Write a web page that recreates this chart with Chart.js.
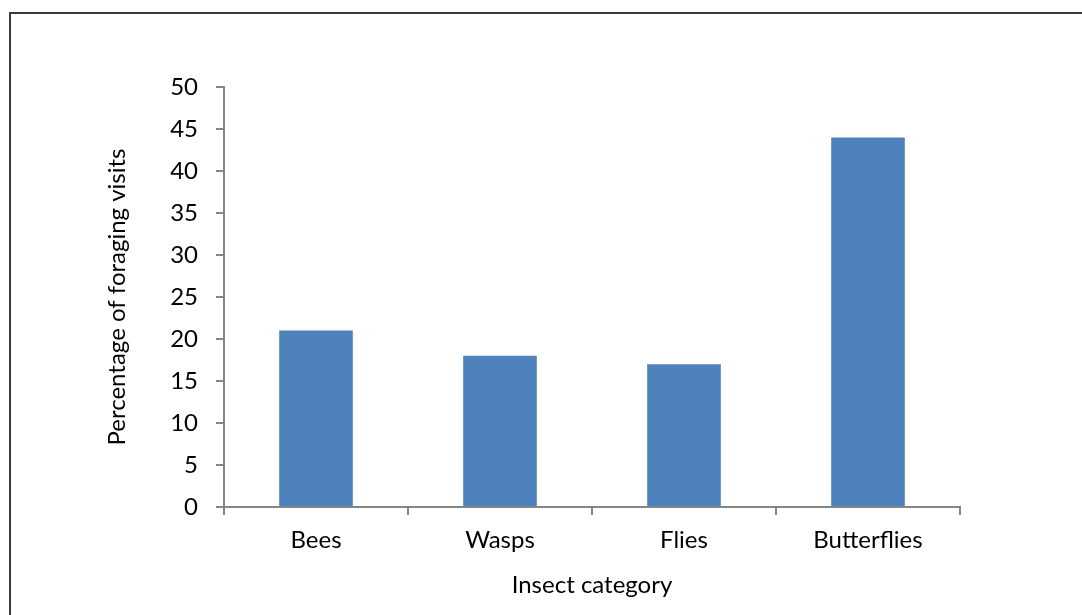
<!DOCTYPE html>
<html>
<head>
<meta charset="utf-8">
<script src="https://cdn.jsdelivr.net/npm/chart.js@4"></script>
<style>
  html, body { margin: 0; padding: 0; background: #fff; overflow: hidden; }
  #frame {
    position: absolute; left: 9px; top: 12px;
    width: 1200px; height: 700px;
    border-left: 2px solid #3a3a3a; border-top: 2px solid #3a3a3a;
  }
  #wrap { position: absolute; left: 0; top: 0; width: 1082px; height: 615px; }
</style>
</head>
<body>
<div id="frame"></div>
<div id="wrap"><canvas id="insectChart" width="1082" height="615"></canvas></div>
<script>
const categories = ['Bees', 'Wasps', 'Flies', 'Butterflies'];
const visits = [21, 18, 17, 44];
const yMin = 0;
const yMax = 50;
const yStep = 5;

const axisGrey = '#868686';
const fontFamily = 'Lato, "Open Sans", sans-serif';
const fontSize = 24;

const ctx = document.getElementById('insectChart').getContext('2d');

new Chart(ctx, {
    type: 'bar',
    data: {
        labels: categories,
        datasets: [{
            data: visits,
            backgroundColor: '#4F81BD',
            borderWidth: 0,
            barPercentage: 0.4,
            categoryPercentage: 1
        }]
    },
    options: {
        responsive: false,
        animation: false,
        layout: {
            padding: { left: 0, top: 87, right: 122, bottom: 0 }
        },
        plugins: {
            legend: { display: false },
            tooltip: { enabled: false }
        },
        scales: {
            x: {
                afterFit: (scale) => { scale.height = 108; },
                grid: {
                    drawOnChartArea: false,
                    tickLength: 8,
                    color: axisGrey,
                    lineWidth: 2
                },
                border: { color: axisGrey, width: 2 },
                ticks: {
                    color: '#000',
                    padding: 11,
                    font: { family: fontFamily, size: fontSize }
                },
                title: {
                    display: true,
                    text: 'Insect category',
                    color: '#000',
                    padding: { top: 0, bottom: 15 },
                    font: { family: fontFamily, size: fontSize }
                }
            },
            y: {
                min: yMin,
                max: yMax,
                afterFit: (scale) => { scale.width = 224; },
                grid: {
                    drawOnChartArea: false,
                    tickLength: 8,
                    color: axisGrey,
                    lineWidth: 2
                },
                border: { color: axisGrey, width: 2 },
                ticks: {
                    stepSize: yStep,
                    color: '#000',
                    padding: 18,
                    font: { family: fontFamily, size: fontSize }
                },
                title: {
                    display: true,
                    text: 'Percentage of foraging visits',
                    color: '#000',
                    padding: { top: 103, bottom: 0 },
                    font: { family: fontFamily, size: fontSize }
                }
            }
        }
    }
});
</script>
</body>
</html>
